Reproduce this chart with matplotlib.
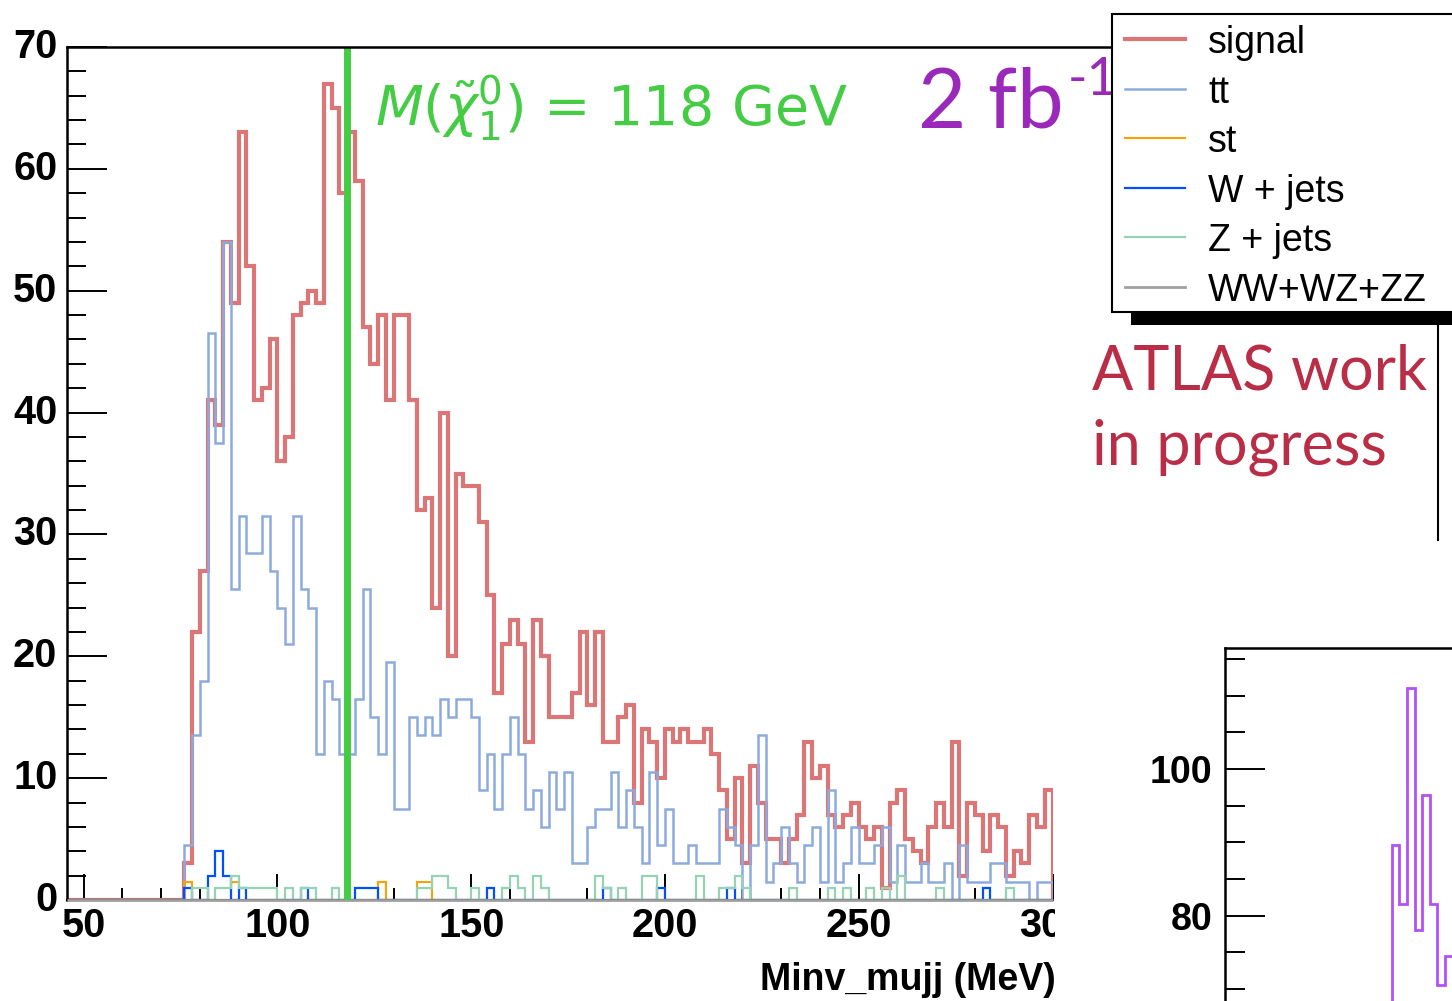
import numpy as np
import matplotlib
matplotlib.use("Agg")
import matplotlib.pyplot as plt
from matplotlib.patches import Rectangle
from matplotlib.ticker import MultipleLocator

W, H = 1452, 1001

# binning of the main histogram (GeV)
bin_lo, bin_w = 76, 2
x_min, x_max = 45.7, 300
y_max = 70
chi_mass = 118

# bin contents, bins of 2 GeV starting at 76 GeV
signal = [3, 22, 27, 41, 39, 54, 49, 63, 52, 41,
          42, 46, 36, 38, 48, 49, 50, 49, 67, 65,
          58, 63, 59, 47, 44, 48, 41, 48, 48, 41,
          32, 33, 24, 40, 20, 35, 34, 34, 31, 25,
          17, 21, 23, 21, 13, 23, 20, 15, 15, 15,
          17, 22, 16, 22, 13, 13, 15, 16, 8, 14,
          13, 10, 14, 13, 14, 13, 13, 14, 12, 9,
          5, 10, 3, 11, 8, 5, 5, 3, 5, 7,
          13, 10, 11, 7, 6, 7, 8, 6, 5, 6,
          1, 8, 9, 5, 4, 3, 6, 8, 6, 13,
          2, 8, 7, 4, 7, 6, 2, 4, 3, 7, 6, 9]
ttbar = [4.5, 13.5, 18.0, 46.5, 37.5, 54.0, 25.5, 31.5, 28.5, 28.5,
         31.5, 27.0, 24.0, 21.0, 31.5, 25.5, 24.0, 12.0, 18.0, 16.5,
         12.0, 12.0, 16.5, 25.5, 15.0, 12.0, 19.5, 7.5, 7.5, 15.0,
         13.5, 15.0, 13.5, 16.5, 15.0, 16.5, 16.5, 15.0, 9.0, 12.0,
         7.5, 12.0, 15.0, 12.0, 7.5, 9.0, 6.0, 10.5, 7.5, 10.5,
         3.0, 3.0, 6.0, 7.5, 7.5, 10.5, 6.0, 9.0, 6.0, 3.0,
         10.5, 4.5, 7.5, 3.0, 3.0, 4.5, 3.0, 3.0, 3.0, 7.5,
         6.0, 4.5, 0.0, 4.5, 13.5, 1.5, 3.0, 6.0, 3.0, 1.5,
         4.5, 6.0, 1.5, 9.0, 1.5, 3.0, 6.0, 3.0, 3.0, 4.5,
         6.0, 1.5, 4.5, 1.5, 1.5, 3.0, 1.5, 1.5, 3.0, 0.0,
         4.5, 1.5, 1.5, 1.5, 3.0, 3.0, 1.5, 1.5, 1.5, 0.0, 1.5, 1.5]

# small backgrounds: left edge of the filled bins and their contents
st_bins = [76, 88, 126, 136, 138]
st_vals = [1.5, 1.5, 1.5, 1.5, 1.5]
wjets_bins = [76, 82, 84, 86, 90, 106, 120, 122, 124, 154, 184, 198, 216, 282]
wjets_vals = [1, 2, 4, 2, 1, 1, 1, 1, 1, 1, 1, 1, 1, 1]
zjets_bins = [78, 80, 84, 86, 88, 90, 92, 94, 96, 98, 102, 106, 108, 114,
              136, 138, 140, 142, 144, 150, 158, 160, 162, 166, 168, 182, 184,
              188, 194, 196, 208, 214, 216, 218, 220, 232, 242, 246, 252, 256,
              260, 270, 288]
zjets_vals = [1, 1, 1, 1, 2, 1, 1, 1, 1, 1, 1, 1, 1, 1,
              1, 1, 2, 2, 1, 1, 1, 2, 1, 2, 1, 2, 1,
              1, 2, 2, 2, 1, 1, 2, 1, 1, 1, 1, 1, 1,
              2, 1, 1]

labels = ["signal", "tt", "st", "W + jets", "Z + jets", "WW+WZ+ZZ"]
colors = ["#DC7676", "#8CAADE", "#FFA000", "#0050FF", "#96D2B4", "#A0A0A0"]
widths = [3.0, 1.8, 1.5, 1.6, 1.6, 2.0]

# inset (second plot, bottom right)
inset_edges = [90, 92, 94, 96, 98, 100, 102, 104, 106]
inset_vals = [89.6, 81.6, 111.0, 78.0, 96.5, 81.6, 70.5, 74.5]

n_bins = len(signal)
edges = np.concatenate([[x_min], bin_lo + bin_w * np.arange(n_bins + 1)])


def full(vals):
    return np.concatenate([[0], vals])


def sparse(bins, vals):
    out = np.zeros(n_bins)
    for b, v in zip(bins, vals):
        out[(b - bin_lo) // bin_w] = v
    return full(out)


hists = [full(signal), full(ttbar), sparse(st_bins, st_vals),
         sparse(wjets_bins, wjets_vals), sparse(zjets_bins, zjets_vals),
         np.zeros(n_bins + 1)]

root_font = "Liberation Sans"
slide_font = "Lato"

fig = plt.figure(figsize=(W / 100, H / 100), dpi=100)


def fx(px):
    return px / W


def fy(py):
    return 1 - py / H


ax = fig.add_axes([fx(67), fy(900), fx(1052.5) - fx(67), fy(47) - fy(900)])
for i, h in enumerate(hists):
    st = ax.stairs(h, edges, color=colors[i], lw=widths[i], baseline=0,
                   zorder=2 + 0.1 * i)
    if i == len(hists) - 1:
        st.set_clip_on(False)
        st.set_zorder(3)
ax.vlines(chi_mass, 0, y_max, color="#44CC44", lw=5, zorder=5)

ax.set_xlim(x_min, x_max)
ax.set_ylim(0, y_max)
ax.set_axisbelow(True)
for s in ["top", "right"]:
    ax.spines[s].set_visible(False)
ax.spines["left"].set_linewidth(1.8)
ax.spines["bottom"].set_linewidth(1.5)
ax.xaxis.set_major_locator(MultipleLocator(50))
ax.xaxis.set_minor_locator(MultipleLocator(10))
ax.yaxis.set_major_locator(MultipleLocator(10))
ax.yaxis.set_minor_locator(MultipleLocator(2))
ax.tick_params(axis="x", which="major", direction="in", length=18.5, width=1.4, pad=5)
ax.tick_params(axis="x", which="minor", direction="in", length=9, width=1.4)
ax.tick_params(axis="y", which="major", direction="in", length=29, width=1.4, pad=7)
ax.tick_params(axis="y", which="minor", direction="in", length=14, width=1.4)
for lbl in ax.get_xticklabels() + ax.get_yticklabels():
    lbl.set_fontfamily(root_font)
    lbl.set_fontweight("bold")
    lbl.set_fontsize(28.5)
for lbl in ax.get_yticklabels():
    lbl.set_verticalalignment("center")

# overlay in pixel coordinates for the slide decorations
ov = fig.add_axes([0, 0, 1, 1], zorder=10)
ov.set_xlim(0, W)
ov.set_ylim(H, 0)
ov.axis("off")
ov.patch.set_alpha(0)

ov.plot([67, 1112], [47, 47], color="black", lw=1.8, zorder=1)
ov.add_patch(Rectangle((1055, 548), 400, 460, fc="white", ec="none", zorder=1))
ov.text(1056, 980, "Minv_mujj (MeV)", ha="right", va="center", fontsize=27,
        fontweight="bold", family=root_font, zorder=2)

ov.text(375, 125, r"$M(\tilde{\chi}^{0}_{1})$ = 118 GeV", color="#44CC44",
        fontsize=40, va="baseline", ha="left", zorder=2)
ov.text(918, 127, "2 fb", color="#9A29B9", fontsize=60, family=slide_font,
        va="baseline", zorder=2)
ov.text(1068, 95, "-1", color="#9A29B9", fontsize=38, family=slide_font,
        va="baseline", zorder=2)

# legend box with ROOT style shadow
ov.add_patch(Rectangle((1131, 312), 400, 13, fc="black", ec="none", zorder=3))
ov.add_patch(Rectangle((1112, 14), 400, 298, fc="white", ec="black", lw=1.5, zorder=4))
for i, lab in enumerate(labels):
    y = 39 + 49.6 * i
    ov.plot([1125, 1185], [y, y], color=colors[i], lw=widths[i], zorder=5)
    ov.text(1208, y, lab, fontsize=27, family=root_font, va="center_baseline",
            ha="left", zorder=5)

ov.plot([1438, 1438], [322, 540], color="black", lw=1.5, zorder=3)
ov.text(1092, 390, "ATLAS work", color="#B92D46", fontsize=44, family=slide_font,
        va="baseline", zorder=3)
ov.text(1092, 465, "in progress", color="#B92D46", fontsize=44, family=slide_font,
        va="baseline", zorder=3)

# inset plot
ins = fig.add_axes([fx(1225), 0, 0.2, fy(648)], zorder=20)
ins.stairs(inset_vals, inset_edges, color="#B450FA", lw=2.0, baseline=0)
ins.set_xlim(46.1, 46.1 + 0.2 * W / 3.8)
ins.set_ylim(68.35, 116.5)
for s in ["bottom", "right"]:
    ins.spines[s].set_visible(False)
ins.spines["left"].set_linewidth(1.8)
ins.spines["top"].set_linewidth(1.8)
ins.set_xticks([])
ins.yaxis.set_major_locator(MultipleLocator(20))
ins.yaxis.set_minor_locator(MultipleLocator(5))
ins.tick_params(axis="y", which="major", direction="in", length=29, width=1.4, pad=9)
ins.tick_params(axis="y", which="minor", direction="in", length=14.5, width=1.4)
for lbl in ins.get_yticklabels():
    lbl.set_fontfamily(root_font)
    lbl.set_fontweight("bold")
    lbl.set_fontsize(27)

fig.savefig("out.png", dpi=100, facecolor="white")
